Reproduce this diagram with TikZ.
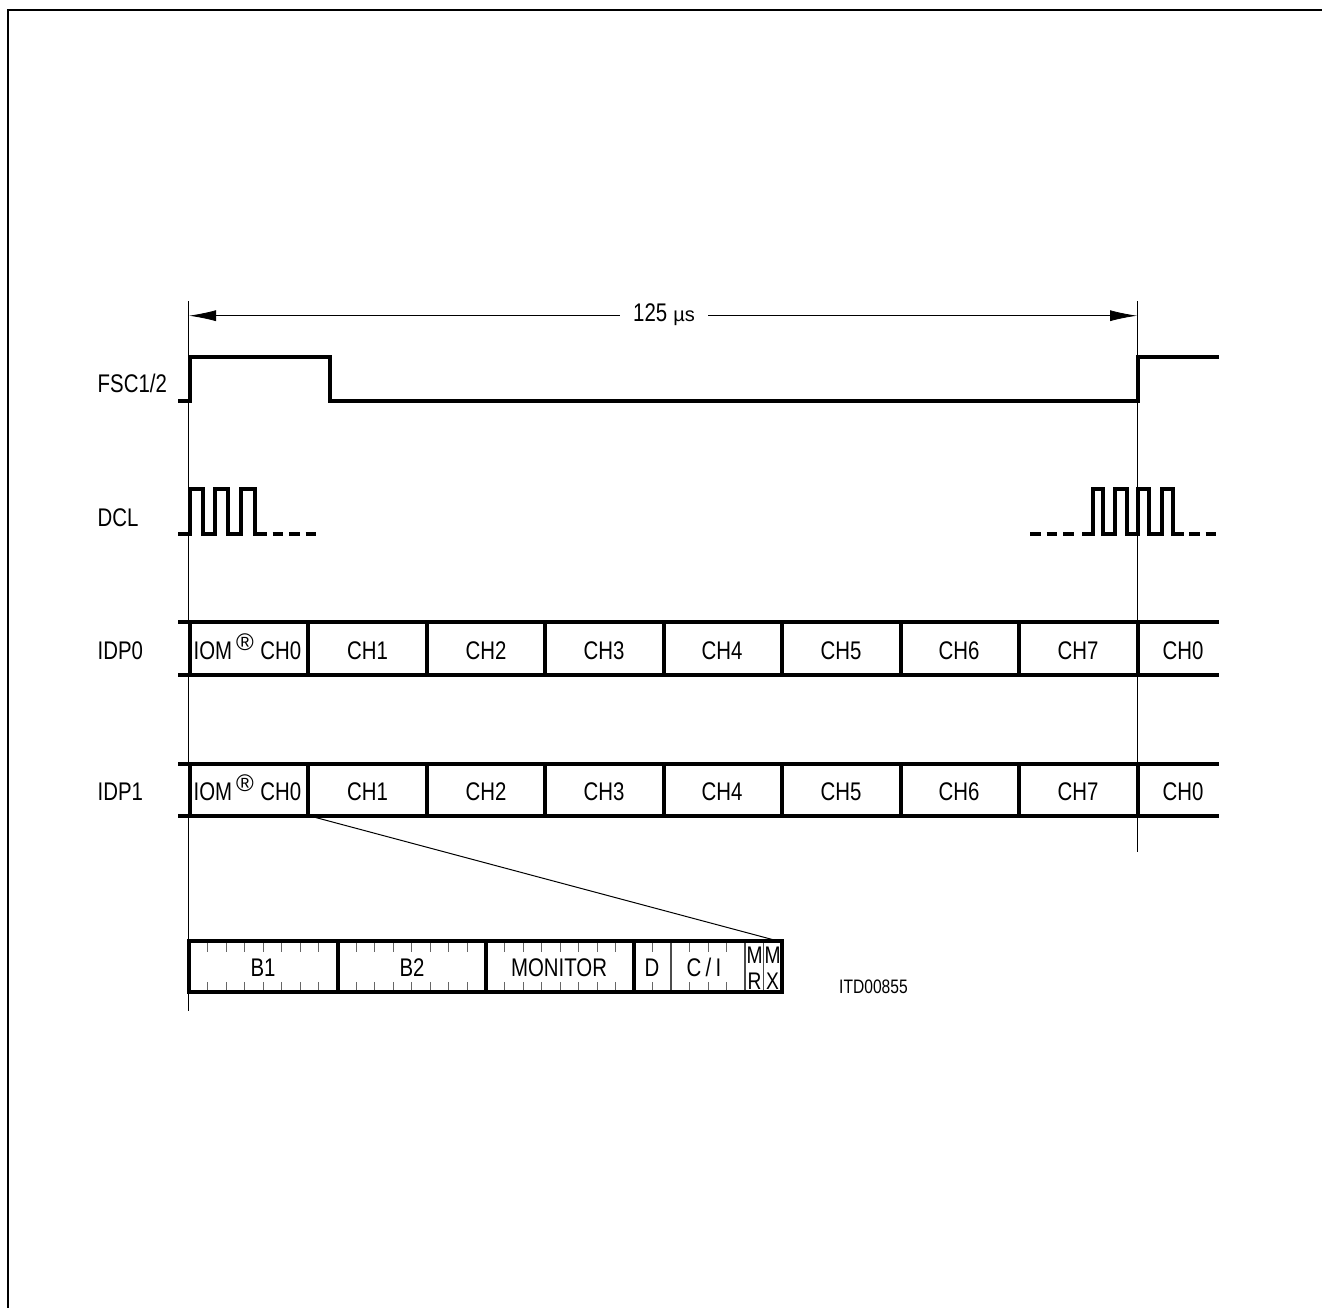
\documentclass[tikz,border=0pt]{standalone}
\usepackage{fontspec}
\setmainfont[FakeStretch=0.8]{Liberation Sans}
\newfontfamily\widefont{Liberation Sans}
\usetikzlibrary{arrows.meta}
\tikzset{
  every picture/.append style={line cap=butt,line join=miter},
  sig line/.style={line width=4pt},
  sig dash/.style={line width=4pt,dash pattern=on 10.5pt off 6pt},
  guide line/.style={line width=1pt},
  dim arrow/.style={line width=0.8pt,-{Latex[length=27pt,width=11pt]}},
  tick line/.style={line width=1pt,black!60},
  sig label/.style={font=\fontsize{25.5}{26}\selectfont,inner sep=0pt},
  bit label/.style={font=\fontsize{24}{26}\selectfont,inner sep=0pt,align=center}
}
\begin{document}
\begin{tikzpicture}[x=1pt,y=-1pt]
\useasboundingbox (0,0) rectangle (1322,1308);
\draw[line width=2pt] (8,1308) -- (8,10) -- (1322,10);
% guides
\draw[guide line] (188.5,301) -- (188.5,1011);
\draw[guide line] (1137.5,301) -- (1137.5,852);
% period
\node[sig label,fill=white,inner xsep=13.5pt,inner ysep=2pt,anchor=base] (period) at (664,321.7) {125\hspace{6pt}{\widefont\fontsize{20}{22}\selectfont µs}};
\coordinate (perleft) at (189,315.7);
\coordinate (perright) at (1137,315.7);
\draw[dim arrow] (period.west |- perleft) -- (perleft);
\draw[dim arrow] (period.east |- perright) -- (perright);
% FSC
\node[sig label,anchor=base west] (fsc) at (97.5,392.7) {FSC1/2};
\draw[sig line] (178,400.5) -- (190,400.5) -- (190,356.5) -- (330,356.5) -- (330,400.5)
  -- (1137.5,400.5) -- (1137.5,356.5) -- (1219,356.5);
% DCL
\node[sig label,anchor=base west] (dcl) at (97.5,526.5) {DCL};
\draw[sig line] (178,534) -- (190,534) -- (190,489) -- (203,489) -- (203,534) -- (215,534)
  -- (215,489) -- (228,489) -- (228,534) -- (241,534) -- (241,489) -- (254.5,489)
  -- (254.5,534) -- (267,534);
\draw[sig dash] (272.5,534) -- (318,534);
\draw[sig dash] (1030,534) -- (1076,534);
\draw[sig line] (1082,534) -- (1092.5,534) -- (1092.5,489) -- (1103,489) -- (1103,534)
  -- (1114.5,534) -- (1114.5,489) -- (1126.5,489) -- (1126.5,534) -- (1137.5,534)
  -- (1137.5,489) -- (1149,489) -- (1149,534) -- (1161.5,534) -- (1161.5,489) -- (1173,489)
  -- (1173,534) -- (1184,534);
\draw[sig dash] (1189,534) -- (1218,534);
% channels
\foreach \ytop/\ybot/\ytxt/\lab in {622/675/659.5/IDP0,764/816/800.5/IDP1}{
  \node[sig label,anchor=base west] (lab\lab) at (97.5,\ytxt) {\lab};
  \draw[sig line] (178,\ytop) -- (1219,\ytop);
  \draw[sig line] (178,\ybot) -- (1219,\ybot);
  \foreach \x in {189.5,308,426.5,545,663.5,782,900.5,1019,1137.5}{
    \draw[sig line] (\x,\ytop) -- (\x,\ybot);
  }
  \foreach \x/\ch in {367.5/CH1,486/CH2,604/CH3,722/CH4,841/CH5,959/CH6,1078/CH7,1183/CH0}{
    \node[sig label,anchor=base] (\lab\ch) at (\x,\ytxt) {\ch};
  }
  \node[sig label,anchor=base west] (\lab iom) at (193.5,\ytxt) {IOM\hspace{4pt}\raisebox{9.5pt}{\widefont\fontsize{24}{24}\selectfont ®}\hspace{6.5pt}CH0};
}
% frame detail
\foreach \x in {207.5,226,244.5,263,281.5,300,318.5,
                356,374.5,393,411.5,430,448.5,467,
                504.5,523,541.5,560,578.5,597,615.5,
                652.5,689.5,708,726.5}{
  \draw[tick line] (\x,941) -- (\x,952);
  \draw[tick line] (\x,982) -- (\x,992);
}
\foreach \x in {671,745,763.5}{
  \draw[line width=1.2pt,black!70] (\x,941) -- (\x,992);
}
\draw[sig line] (189,941) rectangle (781.5,992);
\foreach \x in {338,486,634}{
  \draw[sig line] (\x,941) -- (\x,992);
}
\coordinate (zoomfrom) at (310,816);
\coordinate (zoomto) at (778,941);
\draw[guide line] (zoomfrom) -- (zoomto);
\foreach \x/\lab/\nm in {263/B1/bone,412/B2/btwo,559/MONITOR/mon,652/D/dch,704/{C\,/\,I}/cich}{
  \node[sig label,anchor=base] (\nm) at (\x,976.5) {\lab};
}
\node[bit label,anchor=base] (mr) at (754.5,989.5) {M\\R};
\node[bit label,anchor=base] (mx) at (772.5,989.5) {M\\X};
\node[sig label,anchor=base west,font=\fontsize{19.5}{21}\selectfont] (itd) at (839,993) {ITD00855};
\end{tikzpicture}
\end{document}
